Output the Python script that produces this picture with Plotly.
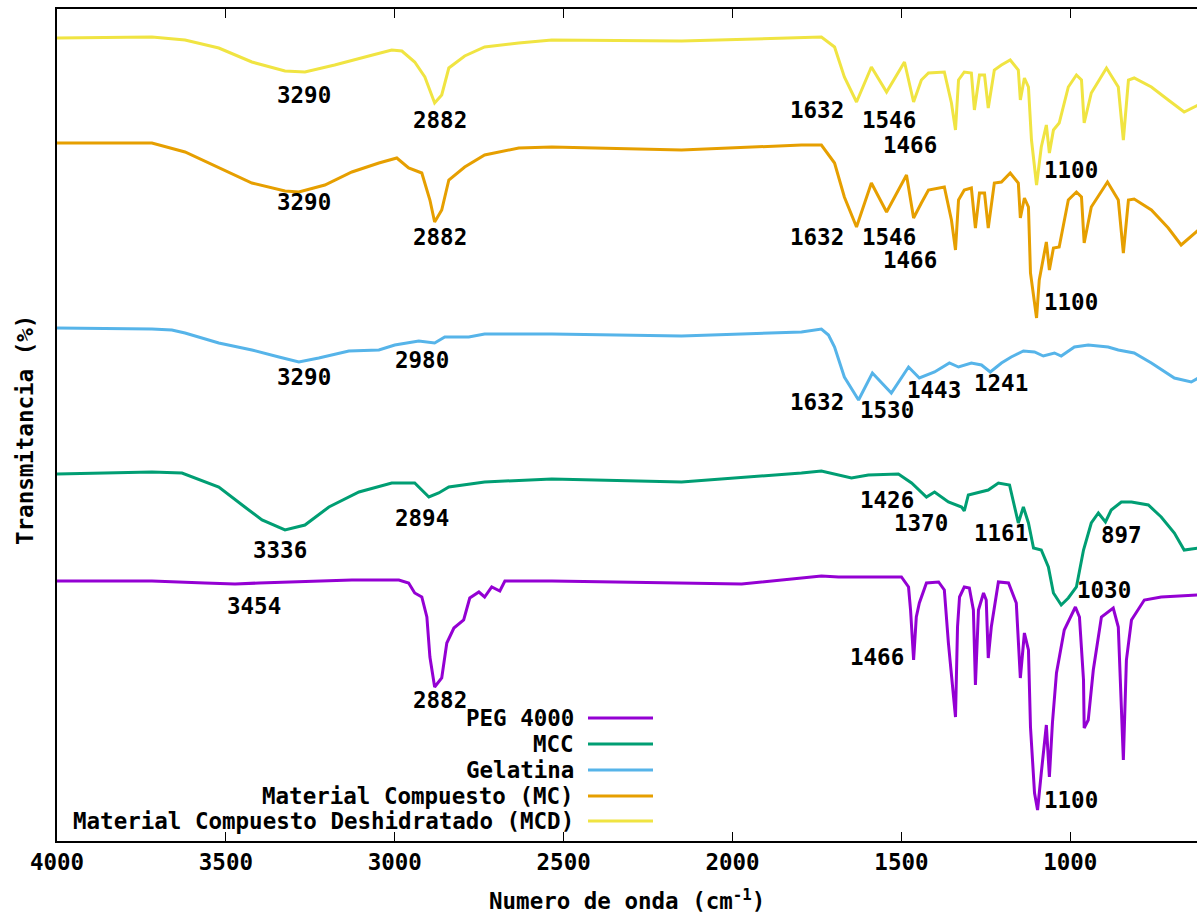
import plotly.graph_objects as go

# ---------------- data (wavenumber cm^-1, transmittance arbitrary offset units) -------------
mcd_wn = [4000, 3719, 3621, 3521, 3423, 3325, 3266, 3178, 3077, 3009, 2979, 2941, 2911, 2882, 2861, 2840,
          2793, 2734, 2633, 2535, 2151, 1796, 1737, 1698, 1669, 1633, 1589, 1544, 1491, 1464, 1441, 1420,
          1373, 1352, 1340, 1331, 1314, 1293, 1284, 1269, 1254, 1243, 1225, 1204, 1178, 1154, 1148, 1136,
          1124, 1115, 1100, 1086, 1071, 1062, 1050, 1033, 1006, 982, 967, 959, 938, 893, 858, 843, 828,
          811, 760, 710, 663, 621]
mcd_t = [803, 804, 801, 793, 779, 770, 769, 776, 785, 791, 790, 779, 764, 738, 746, 773,
         785, 794, 798, 801, 800, 803, 804, 794, 764, 739, 774, 749, 779, 739, 761, 768,
         769, 738, 711, 761, 769, 768, 731, 766, 766, 733, 771, 776, 781, 771, 741, 763,
         754, 701, 656, 694, 716, 688, 711, 718, 754, 766, 761, 718, 748, 773, 754, 701, 761,
         763, 754, 741, 729, 736]

mc_wn = [4000, 3719, 3621, 3521, 3423, 3325, 3284, 3207, 3127, 3047, 2994, 2959, 2920, 2896, 2882, 2861,
         2840, 2793, 2734, 2633, 2535, 2151, 1796, 1737, 1698, 1669, 1633, 1589, 1544, 1485, 1464, 1441,
         1420, 1373, 1352, 1340, 1331, 1314, 1293, 1281, 1269, 1254, 1243, 1225, 1204, 1178, 1154, 1148,
         1136, 1124, 1118, 1100, 1092, 1071, 1062, 1050, 1033, 1006, 982, 967, 959, 938, 890, 858, 843,
         828, 811, 760, 710, 672, 621]
mc_t = [698, 698, 689, 673, 658, 650, 649, 656, 669, 678, 683, 673, 668, 641, 619, 631,
        661, 674, 686, 693, 694, 691, 696, 696, 678, 644, 614, 658, 629, 666, 623, 638,
        651, 654, 621, 591, 641, 651, 653, 613, 648, 648, 613, 658, 659, 668, 658, 623,
        643, 634, 568, 523, 561, 599, 571, 593, 594, 641, 649, 644, 598, 634, 659, 641, 588,
        641, 642, 631, 613, 596, 611]

gel_wn = [4000, 3719, 3660, 3621, 3521, 3423, 3343, 3284, 3225, 3136, 3047, 3000, 2929, 2882, 2852, 2781,
          2734, 2535, 2151, 1796, 1737, 1716, 1698, 1669, 1627, 1586, 1530, 1479, 1447, 1402, 1358, 1331,
          1293, 1263, 1237, 1204, 1175, 1139, 1106, 1080, 1047, 1027, 988, 947, 888, 858, 811, 760,
          692, 642, 621]
gel_t = [513, 512, 511, 508, 498, 491, 484, 479, 483, 490, 491, 496, 500, 498, 504, 504,
         507, 507, 505, 509, 512, 506, 494, 464, 441, 468, 448, 474, 463, 469, 478, 474,
         478, 476, 469, 478, 484, 490, 489, 485, 488, 485, 494, 496, 494, 491, 488, 478,
         463, 459, 463]

mcc_wn = [4000, 3719, 3630, 3521, 3444, 3393, 3325, 3266, 3195, 3106, 3009, 2941, 2899, 2870, 2840, 2734,
          2535, 2151, 1796, 1737, 1648, 1598, 1509, 1470, 1426, 1402, 1361, 1322, 1314, 1302, 1243, 1213,
          1180, 1166, 1154, 1139, 1124, 1109, 1086, 1065, 1050, 1027, 1006, 982, 961, 938, 917, 896,
          879, 849, 819, 769, 731, 692, 663, 621]
mcc_t = [367, 369, 368, 354, 334, 321, 311, 316, 334, 349, 358, 358, 344, 348, 354, 359,
         362, 359, 368, 370, 363, 366, 367, 358, 344, 349, 339, 334, 330, 346, 351, 358,
         356, 334, 318, 334, 318, 293, 291, 274, 248, 236, 243, 254, 291, 318, 328, 319,
         331, 339, 339, 336, 324, 308, 291, 293]

peg_wn = [4000, 3719, 3562, 3473, 3402, 3325, 3127, 2988, 2959, 2941, 2920, 2905, 2896, 2882, 2861, 2846,
          2825, 2796, 2778, 2751, 2734, 2713, 2689, 2674, 2535, 1973, 1737, 1686, 1500, 1479, 1473, 1464,
          1456, 1447, 1426, 1390, 1373, 1361, 1346, 1340, 1334, 1328, 1314, 1299, 1287, 1281, 1272, 1257,
          1249, 1243, 1234, 1213, 1183, 1160, 1148, 1136, 1124, 1118, 1106, 1097, 1086, 1071, 1062, 1053,
          1041, 1018, 985, 973, 961, 959, 947, 932, 908, 873, 858, 849, 843, 834, 819, 781, 731, 621]
peg_t = [260, 260, 258, 257, 258, 259, 261, 261, 258, 248, 244, 224, 184, 154, 163, 198,
         213, 221, 243, 249, 244, 254, 250, 260, 260, 257, 265, 264, 264, 254, 231, 181,
         224, 238, 258, 259, 251, 198, 148, 124, 214, 244, 254, 253, 231, 156, 231, 248,
         241, 183, 214, 259, 258, 238, 163, 208, 191, 114, 48, 31, 68, 116, 64, 118,
         168, 211, 234, 224, 161, 113, 121, 171, 224, 233, 214, 124, 81, 181, 221, 241, 244, 246]

series_names = ["PEG 4000", "MCC", "Gelatina", "Material Compuesto (MC)",
                "Material Compuesto Deshidratado (MCD)"]
series_colors = ["#9400d3", "#009e73", "#56b4e9", "#e69f00", "#f0e442"]
series_x = [peg_wn, mcc_wn, gel_wn, mc_wn, mcd_wn]
series_y = [peg_t, mcc_t, gel_t, mc_t, mcd_t]

# peak labels: text, wavenumber, transmittance position
label_text = ["3290", "2882", "1632", "1546", "1466", "1100",
              "3290", "2882", "1632", "1546", "1466", "1100",
              "3290", "2980", "1632", "1530", "1443", "1241",
              "3336", "2894", "1426", "1370", "1161", "897", "1030",
              "3454", "2882", "1466", "1100"]
label_wn = [3269, 2867, 1751, 1538, 1476, 997,
            3269, 2867, 1751, 1538, 1476, 997,
            3269, 2920, 1751, 1544, 1405, 1204,
            3340, 2920, 1544, 1441, 1204, 849, 899,
            3417, 2867, 1571, 997]
label_t = [746, 721, 731, 721, 696, 671,
           639, 604, 604, 604, 581, 539,
           464, 481, 439, 431, 451, 458,
           291, 323, 341, 318, 308, 306, 251,
           235, 141, 184, 41]

FONT = "DejaVu Sans Mono"
FS = 22.5

fig = go.Figure()
for name, color, xs, ys in zip(series_names, series_colors, series_x, series_y):
    fig.add_trace(go.Scatter(x=xs, y=ys, mode="lines", name=name, showlegend=False,
                             line=dict(color=color, width=3)))

annotations = []
for t, xw, yt in zip(label_text, label_wn, label_t):
    annotations.append(dict(x=xw, y=yt, xref="x", yref="y", text=t, showarrow=False,
                            font=dict(family=FONT, size=FS, color="black", weight="bold")))

# custom legend (text right-aligned, sample line on the right)
plot_l, plot_r, plot_t, plot_b = 57, 1197, 9, 841
W = plot_r - plot_l
H = plot_b - plot_t
legend_rows = [718, 744, 770, 796, 821]
shapes = []
for name, color, py in zip(series_names, series_colors, legend_rows):
    yp = (plot_b - py) / H
    annotations.append(dict(x=(576 - plot_l) / W, y=yp, xref="paper", yref="paper", text=name,
                            showarrow=False, xanchor="right", yanchor="middle",
                            font=dict(family=FONT, size=FS, color="black", weight="bold")))
    shapes.append(dict(type="line", xref="paper", yref="paper",
                       x0=(588 - plot_l) / W, x1=(653 - plot_l) / W, y0=yp, y1=yp,
                       line=dict(color=color, width=3)))

# axis titles
annotations.append(dict(x=0.5, y=(plot_b - 900) / H, xref="paper", yref="paper",
                        text="Numero de onda (cm<sup>-1</sup>)", showarrow=False,
                        xanchor="center", yanchor="middle",
                        font=dict(family=FONT, size=FS, color="black", weight="bold")))
annotations.append(dict(x=(25 - plot_l) / W, y=(plot_b - 430) / H, xref="paper", yref="paper",
                        text="Transmitancia (%)", showarrow=False, textangle=-90,
                        xanchor="center", yanchor="middle",
                        font=dict(family=FONT, size=FS, color="black", weight="bold")))

fig.update_layout(
    width=1197, height=914,
    margin=dict(l=plot_l, r=1197 - plot_r, t=plot_t, b=914 - plot_b),
    paper_bgcolor="white", plot_bgcolor="white",
    annotations=annotations, shapes=shapes,
    showlegend=False,
    xaxis=dict(range=[4000, 625], tickvals=[4000, 3500, 3000, 2500, 2000, 1500, 1000],
               ticks="inside", ticklen=9, tickwidth=1, tickcolor="black",
               showline=True, linecolor="black", linewidth=1.5, mirror="ticks",
               showgrid=False, zeroline=False,
               tickfont=dict(family=FONT, size=FS, color="black", weight="bold")),
    yaxis=dict(range=[0, 832], showticklabels=False, ticks="", showgrid=False, zeroline=False,
               showline=True, linecolor="black", linewidth=1.5, mirror=False),
)

fig.write_html("out.html")
